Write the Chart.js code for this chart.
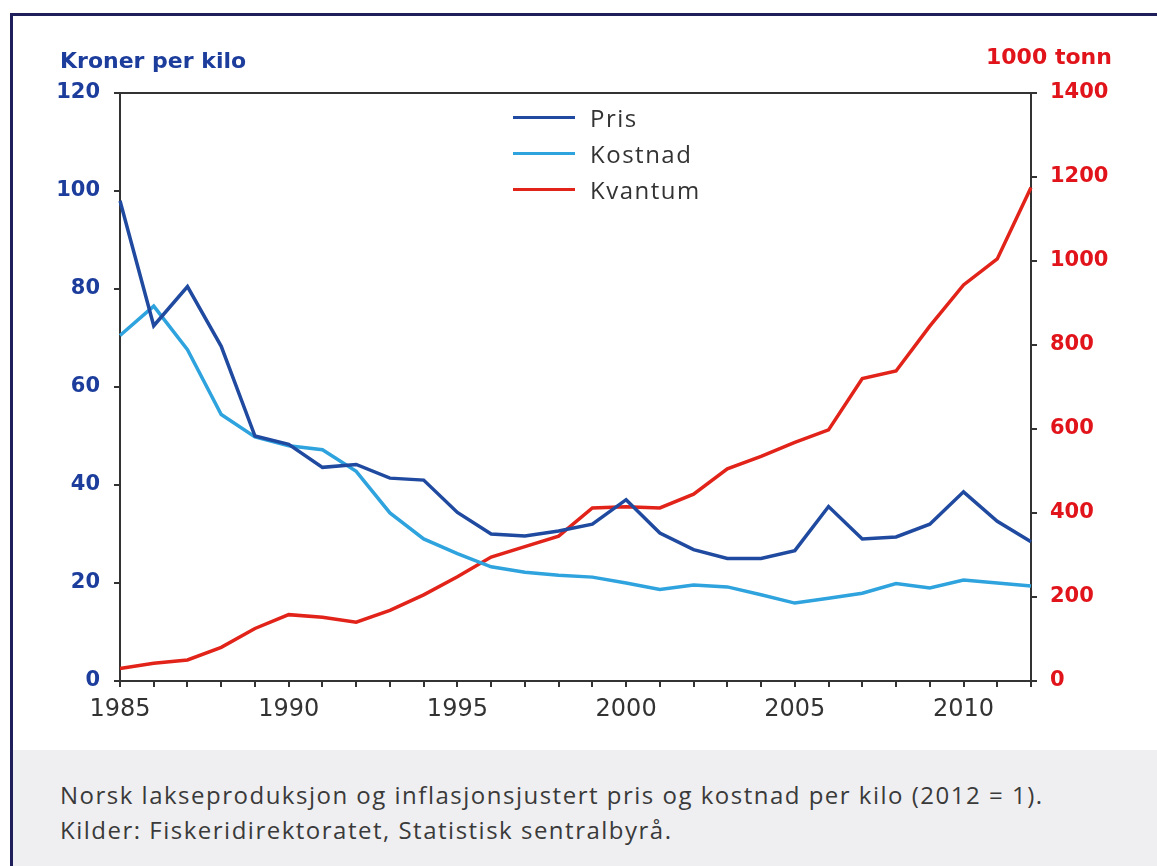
<!DOCTYPE html>
<html>
<head>
<meta charset="utf-8">
<script src="https://cdn.jsdelivr.net/npm/chart.js@4"></script>
<style>
	body { margin: 0; background: #fff; width: 1157px; height: 866px; overflow: hidden; position: relative; font-family: "Open Sans", sans-serif; }
	#c { position: absolute; left: 0; top: 0; }
	.frame-top { position: absolute; left: 10px; top: 13px; width: 1147px; height: 3px; background: #1f1f5c; }
	.frame-left { position: absolute; left: 10px; top: 13px; width: 3px; height: 853px; background: #1f1f5c; }
	.caption { position: absolute; left: 13px; top: 750px; width: 1144px; height: 116px; background: #efeff2; }
	.caption p { margin: 0; position: absolute; left: 47px; font-size: 24px; letter-spacing: 1.5px; color: #3a3a3a; white-space: nowrap; }
	.title { position: absolute; font-family: "DejaVu Sans", sans-serif; font-weight: bold; font-size: 22px; }
	#legend { position: absolute; left: 513px; top: 99px; }
	#legend div { height: 36px; display: flex; align-items: center; font-family: "Open Sans", sans-serif; font-size: 24px; letter-spacing: 1.5px; color: #333; }
	#legend span.line { display: inline-block; width: 62px; height: 3px; margin-right: 15px; }
</style>
</head>
<body>
<canvas id="c" width="1157" height="750"></canvas>
<div class="frame-top"></div>
<div class="frame-left"></div>
<div class="title" style="left:60px; top:48px; color:#1c3d9c;">Kroner per kilo</div>
<div class="title" style="left:986px; top:44px; color:#e0141a;">1000 tonn</div>
<div id="legend"></div>
<div class="caption">
	<p style="top:28px;">Norsk lakseproduksjon og inflasjonsjustert pris og kostnad per kilo (2012 = 1).</p>
	<p style="top:63px;">Kilder: Fiskeridirektoratet, Statistisk sentralbyrå.</p>
</div>
<script>
const years = [1985, 1986, 1987, 1988, 1989, 1990, 1991, 1992, 1993, 1994, 1995, 1996, 1997, 1998,
	1999, 2000, 2001, 2002, 2003, 2004, 2005, 2006, 2007, 2008, 2009, 2010, 2011, 2012];

// kroner per kilo
const pris = [98, 72.5, 80.5, 68.3, 50, 48.3, 43.6, 44.2, 41.4, 41, 34.4, 30, 29.6, 30.6,
	32, 37, 30.2, 26.8, 25, 25, 26.6, 35.6, 29, 29.4, 32, 38.6, 32.6, 28.4];
const kostnad = [70.5, 76.5, 67.6, 54.4, 49.8, 48, 47.2, 42.8, 34.3, 29, 26, 23.3, 22.2, 21.6,
	21.2, 20, 18.7, 19.6, 19.2, 17.6, 15.9, 16.9, 17.9, 19.9, 19, 20.6, 20, 19.4];

// 1000 tonn
const kvantum = [30, 42, 50, 80, 125, 158, 152, 140, 168, 205, 248, 295, 320, 345,
	412, 415, 412, 445, 505, 535, 568, 598, 720, 738, 845, 943, 1005, 1175];

const seriesNames = ["Pris", "Kostnad", "Kvantum"];
const seriesColors = ["#1f4aa0", "#2ea3de", "#e2231a"];

const leftTicks = "#1c3d9c";
const rightTicks = "#e0141a";
const axisColor = "#333";

// top edge of the plot box
const topLine = {
	id: "topLine",
	afterDraw(chart) {
		const { ctx, chartArea } = chart;
		ctx.save();
		ctx.strokeStyle = axisColor;
		ctx.lineWidth = 2;
		ctx.beginPath();
		ctx.moveTo(chartArea.left, chartArea.top);
		ctx.lineTo(chartArea.right, chartArea.top);
		ctx.stroke();
		ctx.restore();
	}
};

const legend = document.getElementById("legend");
seriesNames.forEach((name, i) => {
	const row = document.createElement("div");
	row.innerHTML = `<span class="line" style="background:${seriesColors[i]}"></span>${name}`;
	legend.appendChild(row);
});

new Chart(document.getElementById("c"), {
	type: "line",
	data: {
		labels: years,
		datasets: [
			{ label: seriesNames[0], data: pris, yAxisID: "y", borderColor: seriesColors[0] },
			{ label: seriesNames[1], data: kostnad, yAxisID: "y", borderColor: seriesColors[1] },
			{ label: seriesNames[2], data: kvantum, yAxisID: "y1", borderColor: seriesColors[2] }
		].map(d => ({ ...d, borderWidth: 3.5, pointRadius: 0, tension: 0, fill: false }))
	},
	options: {
		responsive: false,
		animation: false,
		devicePixelRatio: 1,
		layout: { padding: { top: 93, left: 0, right: 0, bottom: 0 } },
		plugins: {
			legend: { display: false },
			tooltip: { enabled: false }
		},
		scales: {
			x: {
				type: "category",
				offset: false,
				afterFit: s => { s.height = 69; },
				border: { display: true, color: axisColor, width: 2 },
				grid: { drawOnChartArea: false, drawTicks: true, tickLength: 6, color: axisColor, lineWidth: 2 },
				ticks: {
					autoSkip: false,
					maxRotation: 0,
					padding: 8,
					color: "#333",
					font: { family: "DejaVu Sans", size: 24 },
					callback: (v, i) => years[i] % 5 === 0 ? years[i] : ""
				}
			},
			y: {
				position: "left",
				min: 0,
				max: 120,
				afterFit: s => { s.width = 120; },
				border: { display: true, color: axisColor, width: 2 },
				grid: { drawOnChartArea: false, drawTicks: true, tickLength: 6, color: axisColor, lineWidth: 2 },
				ticks: {
					stepSize: 20,
					padding: 14,
					color: leftTicks,
					font: { family: "DejaVu Sans", size: 21, weight: "bold" },
					callback: v => String(v)
				}
			},
			y1: {
				position: "right",
				min: 0,
				max: 1400,
				afterFit: s => { s.width = 126; },
				border: { display: true, color: axisColor, width: 2 },
				grid: { drawOnChartArea: false, drawTicks: true, tickLength: 6, color: axisColor, lineWidth: 2 },
				ticks: {
					stepSize: 200,
					padding: 13,
					color: rightTicks,
					font: { family: "DejaVu Sans", size: 21, weight: "bold" },
					callback: v => String(v)
				}
			}
		}
	},
	plugins: [topLine]
});
</script>
</body>
</html>
